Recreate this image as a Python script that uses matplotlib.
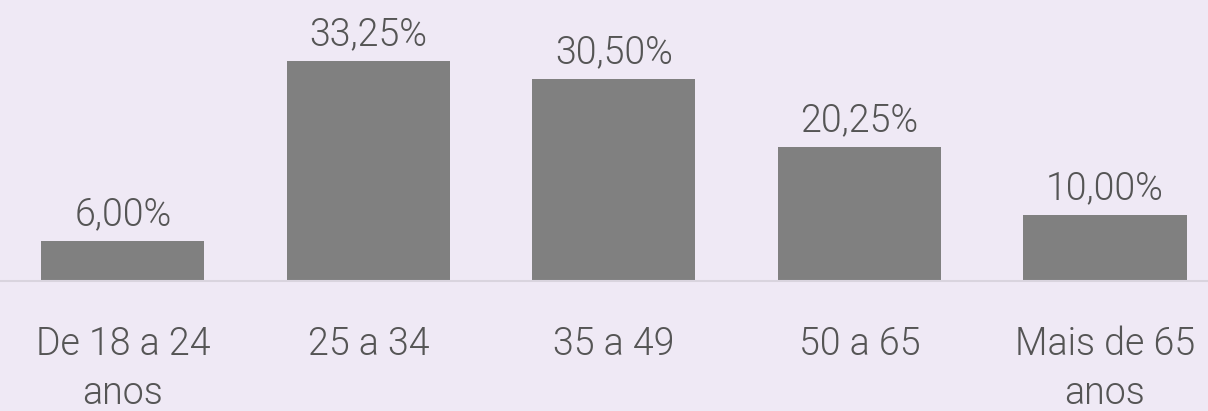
import matplotlib

matplotlib.use("Agg")
import matplotlib.pyplot as plt

categories = ["De 18 a 24\nanos", "25 a 34", "35 a 49", "50 a 65", "Mais de 65\nanos"]
values = [6.00, 33.25, 30.50, 20.25, 10.00]
labels = ["6,00%", "33,25%", "30,50%", "20,25%", "10,00%"]

BG = "#EFE9F5"
BAR = "#808080"
TXT = "#555555"

plt.rcParams["font.family"] = ["Roboto", "DejaVu Sans"]

fig = plt.figure(figsize=(12.08, 4.11), dpi=100, facecolor=BG)
ax = fig.add_axes([0, 1 - 281 / 411, 1, 281 / 411])
ax.set_facecolor(BG)

x = list(range(len(categories)))
ax.bar(x, values, width=0.665, color=BAR)
for xi, v, lab in zip(x, values, labels):
    ax.text(xi, v + 2.4, lab, ha="center", va="baseline", fontsize=27,
            color=TXT, fontweight=300)

ax.set_xlim(-0.5, 4.42)
ax.set_ylim(0, 42.47)
ax.set_xticks(x)
ax.set_xticklabels(categories, fontsize=27, color=TXT, fontweight=300,
                   linespacing=1.4)
ax.tick_params(axis="x", length=0, pad=32)
ax.set_yticks([])
for side in ["top", "left", "right"]:
    ax.spines[side].set_visible(False)
ax.spines["bottom"].set_color("#D9D4DE")
ax.spines["bottom"].set_linewidth(1.5)

fig.savefig("out.png", dpi=100, facecolor=BG)
